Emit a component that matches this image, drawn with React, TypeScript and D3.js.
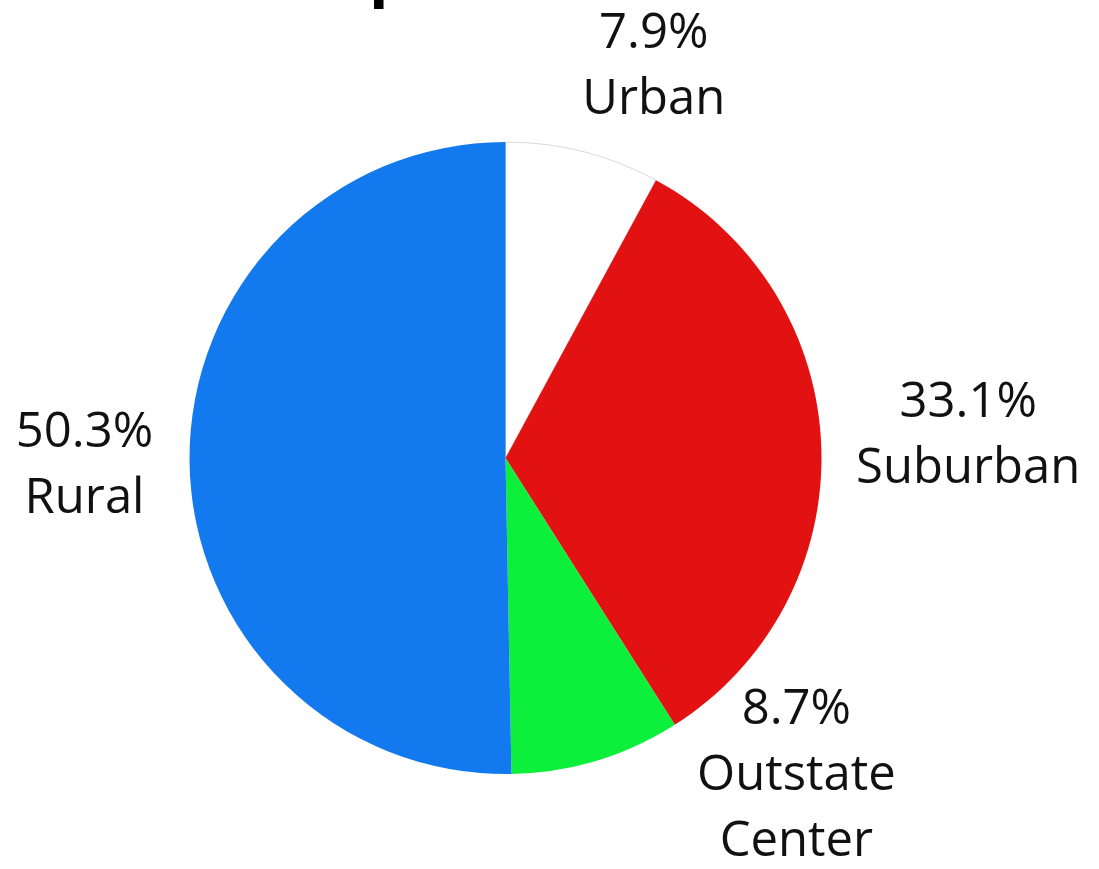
import * as d3 from "d3";

type Slice = { label: string[]; value: number };

const categories = ["Urban", "Suburban", "Outstate Center", "Rural"];
const shares = [7.9, 33.1, 8.7, 50.3];
const labelLines = [["Urban"], ["Suburban"], ["Outstate", "Center"], ["Rural"]];
const colors = ["#ffffff", "#e31212", "#0cef3b", "#1279ef"];

const width = 1099;
const height = 869;
const cx = 505.5;
const cy = 458;
const radius = 316;

// where each label block is centred (radius along slice mid-angle, then a nudge)
const labelRadius = [400, 463, 430, 421];
const labelNudge = [
  [50, -7],
  [0, -10],
  [167, -97],
  [0, 0],
];

const App = () => {
  const data: Slice[] = categories.map((c, i) => ({ label: labelLines[i], value: shares[i] }));
  const pie = d3
    .pie<Slice>()
    .value((d) => d.value)
    .sort(null)
    .startAngle(0)
    .endAngle(2 * Math.PI);
  const arcs = pie(data);
  const arc = d3.arc<d3.PieArcDatum<Slice>>().innerRadius(0).outerRadius(radius);

  const fontSize = 49;
  const lineH = 66;

  return (
    <svg
      width={width}
      height={height}
      viewBox={`0 0 ${width} ${height}`}
      style={{ position: "absolute", left: 0, top: 0, background: "#fff" }}
      fontFamily="'Open Sans', sans-serif"
    >
      {/* cut-off title descender at the top edge */}
      <text x={369} y={-7} fontSize={64} fontWeight={700} fill="#000">
        p
      </text>
      <g transform={`translate(${cx}, ${cy})`}>
        {arcs.map((a, i) => (
          <path
            key={i}
            d={arc(a) ?? ""}
            fill={colors[i]}
            stroke={i === 0 ? "#d9d9d9" : "none"}
            strokeWidth={1}
          />
        ))}
        {arcs.map((a, i) => {
          const mid = (a.startAngle + a.endAngle) / 2;
          const r = labelRadius[i];
          const lx = Math.sin(mid) * r + labelNudge[i][0];
          const ly = -Math.cos(mid) * r + labelNudge[i][1];
          const lines = [`${a.data.value.toFixed(1)}%`, ...a.data.label];
          const top = ly - ((lines.length - 1) * lineH) / 2;
          return (
            <text key={i} textAnchor="middle" fontSize={fontSize} fill="#111">
              {lines.map((t, j) => (
                <tspan key={j} x={lx} y={top + j * lineH + fontSize * 0.36}>
                  {t}
                </tspan>
              ))}
            </text>
          );
        })}
      </g>
    </svg>
  );
};

export default App;
